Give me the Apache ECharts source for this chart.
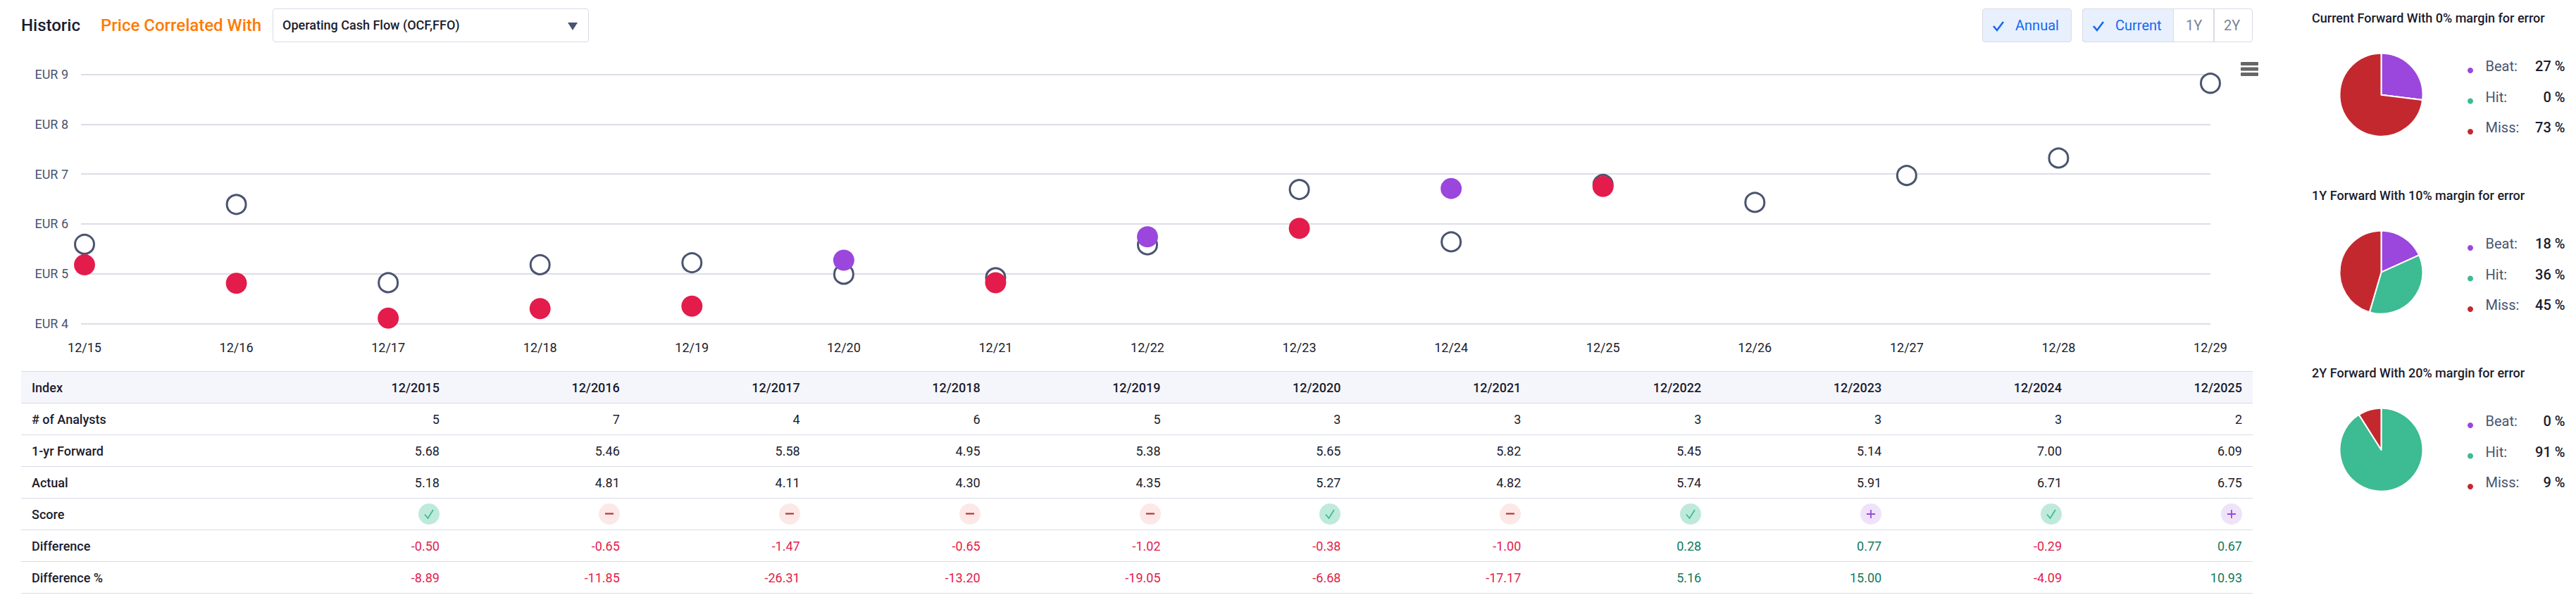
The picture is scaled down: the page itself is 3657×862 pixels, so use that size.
<!DOCTYPE html>
<html>
<head>
<meta charset="utf-8">
<title>Historic</title>
<script src="https://cdn.jsdelivr.net/npm/echarts@6/dist/echarts.min.js"></script>
<style>
html,body{margin:0;padding:0;background:#fff;width:3657px;height:862px;overflow:hidden;font-family:Roboto,sans-serif;}
#chart{position:absolute;left:0;top:0;width:3657px;height:862px;}
.t{position:absolute;white-space:nowrap;line-height:24px;}
.box{position:absolute;box-sizing:border-box;border:1.5px solid #d9dbe6;border-radius:4px;}
.on{background:#e8f0fe;color:#1668f0;}
.caret{position:absolute;left:806px;top:32px;width:0;height:0;border-left:7px solid transparent;border-right:7px solid transparent;border-top:11px solid #4a5470;}
table{position:absolute;left:30px;top:527px;width:3168px;border-collapse:collapse;table-layout:fixed;font-size:18px;color:#1a1c2e;border-top:1.5px solid #d9dbe6;}
td,th{height:45px;padding:0 15px 0 0;box-sizing:border-box;border-bottom:1.5px solid #d9dbe6;text-align:right;font-weight:400;}
th{background:#f5f6fb;font-weight:500;}
td:first-child,th:first-child{text-align:left;padding:0 0 0 15px;font-weight:500;}
col.idx{width:353px;}
.neg{color:#e31c4b;}.pos{color:#0f7a5c;}
.ic{display:block;margin-left:auto;width:30px;height:30px;}
</style>
</head>
<body>
<div id="chart"></div>

<div class="t" style="left:30px;top:24px;font-size:24px;font-weight:500;color:#1a1c2e;">Historic</div>
<div class="t" style="left:143px;top:24px;font-size:24px;font-weight:500;color:#ff7a00;">Price Correlated With</div>
<div class="box" style="left:387px;top:12px;width:449px;height:48px;"></div>
<div class="t" style="left:401px;top:24px;font-size:18px;font-weight:500;color:#1a1c2e;">Operating Cash Flow (OCF,FFO)</div>
<div class="caret"></div>

<div class="box on" style="left:2814px;top:12px;width:127px;height:48px;"></div>
<div class="t" style="left:2861px;top:24px;font-size:20px;color:#1668f0;">Annual</div>
<svg style="position:absolute;left:2828px;top:28px" width="18" height="18" viewBox="0 0 18 18"><path d="M2 9 L7 15 L16 3" fill="none" stroke="#1668f0" stroke-width="2.6"/></svg>
<div class="box" style="left:2956px;top:12px;width:242px;height:48px;"></div>
<div class="box on" style="left:2956px;top:12px;width:130px;height:48px;border-radius:4px 0 0 4px;"></div>
<div style="position:absolute;left:3142px;top:12px;width:1.5px;height:48px;background:#d9dbe6;"></div>
<svg style="position:absolute;left:2970px;top:28px" width="18" height="18" viewBox="0 0 18 18"><path d="M2 9 L7 15 L16 3" fill="none" stroke="#1668f0" stroke-width="2.6"/></svg>
<div class="t" style="left:3003px;top:24px;font-size:20px;color:#1668f0;">Current</div>
<div class="t" style="left:3103px;top:24px;font-size:20px;color:#7a8298;">1Y</div>
<div class="t" style="left:3157px;top:24px;font-size:20px;color:#7a8298;">2Y</div>

<table id="tbl"></table>

<script>
// ---- scatter chart data ----
const axisDates = ['12/15','12/16','12/17','12/18','12/19','12/20','12/21','12/22','12/23','12/24','12/25','12/26','12/27','12/28','12/29'];
const forwardPoints = [5.59,6.39,4.82,5.18,5.22,4.99,4.92,5.58,6.69,5.64,6.79,6.43,6.97,7.32,8.82];
const actualValues = [5.18,4.81,4.11,4.30,4.35,5.27,4.82,5.74,5.91,6.71,6.75];
const actualKinds = ['miss','miss','miss','miss','miss','beat','miss','beat','miss','beat','miss'];
const yTicks = [4,5,6,7,8,9];

// ---- table data ----
const tableDates = ['12/2015','12/2016','12/2017','12/2018','12/2019','12/2020','12/2021','12/2022','12/2023','12/2024','12/2025'];
const analysts = ['5','7','4','6','5','3','3','3','3','3','2'];
const oneYrForward = ['5.68','5.46','5.58','4.95','5.38','5.65','5.82','5.45','5.14','7.00','6.09'];
const actualText = ['5.18','4.81','4.11','4.30','4.35','5.27','4.82','5.74','5.91','6.71','6.75'];
const scores = ['hit','miss','miss','miss','miss','hit','miss','hit','beat','hit','beat'];
const difference = ['-0.50','-0.65','-1.47','-0.65','-1.02','-0.38','-1.00','0.28','0.77','-0.29','0.67'];
const differencePct = ['-8.89','-11.85','-26.31','-13.20','-19.05','-6.68','-17.17','5.16','15.00','-4.09','10.93'];

// ---- pie data ----
const pieLabels = ['Beat','Hit','Miss'];
const pieTitles = ['Current Forward With 0% margin for error','1Y Forward With 10% margin for error','2Y Forward With 20% margin for error'];
const pieCurrent = [27,0,73];
const pie1Y = [18,36,45];
const pie2Y = [0,91,9];

const PURPLE='#9b46dc', GREEN='#3dbb92', RED='#c4282f', DOT='#e31c4b', RING='#4a5470';
const pieColors=[PURPLE,GREEN,RED];
const pies=[pieCurrent,pie1Y,pie2Y];
const pieY=[134.7,386.7,638.7];

const chart=echarts.init(document.getElementById('chart'),null,{renderer:'svg',width:3657,height:862});
chart.setOption({
  animation:false,
  tooltip:{show:false},
  textStyle:{fontFamily:'Roboto'},
  title:pieTitles.map((t,i)=>({text:t,left:3282,top:13+252*i,padding:0,
    textStyle:{fontFamily:'Roboto',fontSize:18,fontWeight:500,color:'#1a1c2e',lineHeight:24}})),
  grid:{left:115,right:519,top:105.5,bottom:402.5,containLabel:false},
  xAxis:{type:'value',min:-0.0232,max:14,
    axisLine:{show:false},axisTick:{show:false},splitLine:{show:false},
    axisLabel:{customValues:axisDates.map((d,i)=>i),formatter:v=>axisDates[v],margin:25,
      fontFamily:'Roboto',fontSize:18,color:'#1a1c2e',hideOverlap:false}},
  yAxis:{type:'value',min:yTicks[0],max:yTicks[yTicks.length-1],interval:1,
    axisLine:{show:false},axisTick:{show:false},
    splitLine:{lineStyle:{color:'#dcdde7',width:2}},
    axisLabel:{formatter:v=>'EUR '+v,margin:18,padding:[10,0,0,0],fontFamily:'Roboto',fontSize:18,color:'#4a5470'}},
  legend:pies.map((vals,i)=>({
    orient:'vertical',left:3501,top:84+252*i,padding:0,itemWidth:19,itemHeight:10,itemGap:11.5,icon:'circle',
    selectedMode:false,data:pieLabels,
    formatter:n=>`{n|${n}:}{v|${vals[pieLabels.indexOf(n)]} %}`,
    textStyle:{rich:{
      n:{fontFamily:'Roboto',fontSize:20,color:'#4a5470',width:63,lineHeight:20,padding:[0,0,12,7]},
      v:{fontFamily:'Roboto',fontSize:20,color:'#1a1c2e',width:50,align:'right',lineHeight:20,padding:[0,0,12,0],fontWeight:500}
    }}
  })),
  graphic:[0,7.5,15].map(dy=>({type:'rect',left:3181,top:88+dy,z:10,silent:true,
    shape:{width:25,height:5,r:1},style:{fill:'#666'}})),
  series:[
    {name:'Forward',type:'scatter',z:2,symbolSize:27,clip:false,
     itemStyle:{color:'#fff',borderColor:RING,borderWidth:3,opacity:1},
     data:forwardPoints.map((v,i)=>[i,v])},
    {name:'Actual',type:'scatter',z:3,symbolSize:30,clip:false,
     data:actualValues.map((v,i)=>({value:[i,v],itemStyle:{color:actualKinds[i]==='beat'?PURPLE:DOT,opacity:1}}))},
    ...pies.map((vals,i)=>({type:'pie',center:[3380.5,pieY[i]],radius:[0,59],startAngle:90,clockwise:true,
      label:{show:false},labelLine:{show:false},silent:true,avoidLabelOverlap:false,stillShowZeroSum:true,
      itemStyle:{borderColor:'#fff',borderWidth:2,borderRadius:2},
      data:pieLabels.map((n,k)=>({name:n,value:vals[k],itemStyle:{color:pieColors[k]}}))}))
  ]
});

// ---- table ----
const icons={
  hit:'<svg class="ic" viewBox="0 0 30 30"><circle cx="15" cy="15" r="15" fill="#bfeadb"/><path d="M9 15.5 L13.5 21 L21 9" fill="none" stroke="#3dbb92" stroke-width="1.8"/></svg>',
  miss:'<svg class="ic" viewBox="0 0 30 30"><circle cx="15" cy="15" r="15" fill="#fde8e8"/><path d="M9 14.5 H21" fill="none" stroke="#b6343c" stroke-width="2.2"/></svg>',
  beat:'<svg class="ic" viewBox="0 0 30 30"><circle cx="15" cy="15" r="15" fill="#efe3fa"/><path d="M9 15 H21 M15 9 V21" fill="none" stroke="#9b46dc" stroke-width="1.8"/></svg>'
};
const sign=s=>`<span class="${s[0]==='-'?'neg':'pos'}">${s}</span>`;
const rows=[['# of Analysts',analysts],['1-yr Forward',oneYrForward],['Actual',actualText],
  ['Score',scores.map(s=>icons[s])],['Difference',difference.map(sign)],['Difference %',differencePct.map(sign)]];
const colgroup='<colgroup><col class="idx">'+tableDates.map(()=>'<col>').join('')+'</colgroup>';
let html=colgroup+'<tr><th>Index</th>'+tableDates.map(d=>`<th>${d}</th>`).join('')+'</tr>';
rows.forEach(r=>{html+=`<tr><td>${r[0]}</td>`+r[1].map(c=>`<td>${c}</td>`).join('')+'</tr>';});
document.getElementById('tbl').innerHTML=html;
</script>
</body>
</html>
